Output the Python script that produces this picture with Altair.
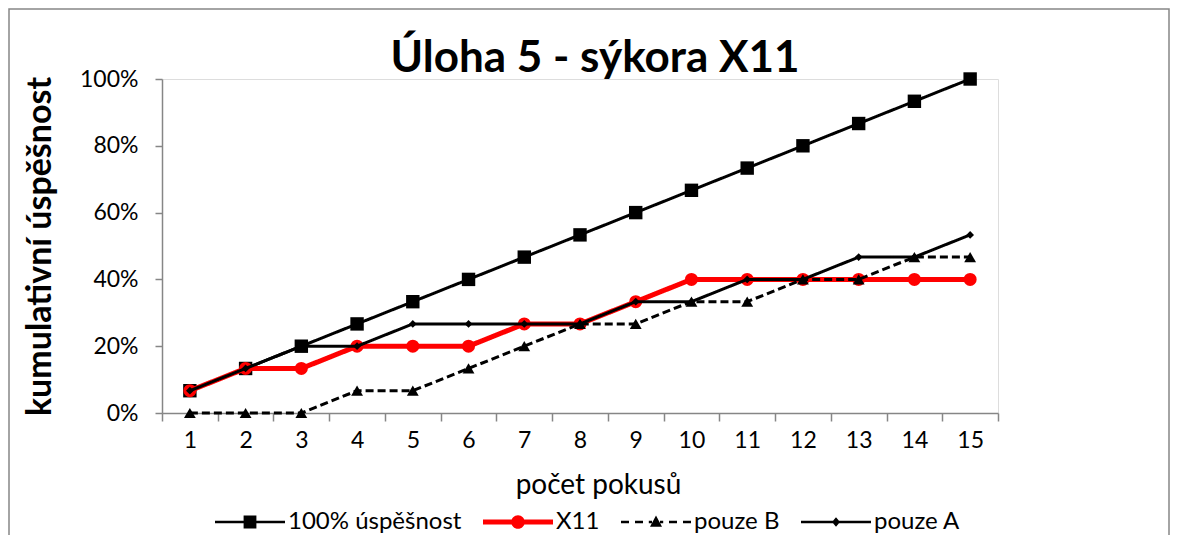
import altair as alt
import pandas as pd

# ---- data ----
pokusy = list(range(1, 16))
serie = ["100% úspěšnost", "X11", "pouze B", "pouze A"]
uspesnost_100 = [6.67, 13.33, 20.0, 26.67, 33.33, 40.0, 46.67, 53.33, 60.0, 66.67, 73.33, 80.0, 86.67, 93.33, 100.0]
x11 = [6.67, 13.33, 13.33, 20.0, 20.0, 20.0, 26.67, 26.67, 33.33, 40.0, 40.0, 40.0, 40.0, 40.0, 40.0]
pouze_b = [0.0, 0.0, 0.0, 6.67, 6.67, 13.33, 20.0, 26.67, 26.67, 33.33, 33.33, 40.0, 40.0, 46.67, 46.67]
pouze_a = [6.67, 13.33, 20.0, 20.0, 26.67, 26.67, 26.67, 26.67, 33.33, 33.33, 40.0, 40.0, 46.67, 46.67, 53.33]
y_ticks = [0, 20, 40, 60, 80, 100]

rows = []
for name, vals in zip(serie, [uspesnost_100, x11, pouze_b, pouze_a]):
    for p, v in zip(pokusy, vals):
        rows.append({"pokus": p, "hodnota": v, "serie": name})
df = pd.DataFrame(rows)

FONT = "Lato"
GRAY = "#868686"
W, H = 836, 334

x_enc = alt.X(
    "pokus:O",
    scale=alt.Scale(type="band", paddingInner=0, paddingOuter=0),
    bandPosition=0.5,
    axis=alt.Axis(
        labelAngle=0, tickBand="extent", tickSize=8, labelPadding=8,
        labelFontSize=23, labelFont=FONT, labelColor="black",
        title="počet pokusů", titleFont=FONT, titleFontSize=28, titleFontWeight="normal",
        titleColor="black", titleX=436, titleY=80, titleBaseline="alphabetic",
        domainColor=GRAY, tickColor=GRAY, domainWidth=1.5, tickWidth=1.5, grid=False,
    ),
)
y_enc = alt.Y(
    "hodnota:Q",
    scale=alt.Scale(domain=[0, 100]),
    axis=alt.Axis(
        values=y_ticks, labelExpr="datum.value + '%'", tickSize=7, labelPadding=17,
        labelFontSize=23, labelFont=FONT, labelColor="black",
        title="kumulativní úspěšnost", titleFont=FONT, titleFontSize=34, titleFontWeight="bold",
        titleColor="black", titleX=-112, titleY=H / 2, titleBaseline="alphabetic",
        domainColor=GRAY, tickColor=GRAY, domainWidth=1.5, tickWidth=1.5, grid=False,
    ),
)

styles = {
    "100% úspěšnost": dict(color="black", width=3, dash=[1, 0], shape="square", size=180),
    "X11": dict(color="#ff0000", width=5, dash=[1, 0], shape="circle", size=170),
    "pouze B": dict(color="black", width=3, dash=[8, 4], shape="triangle-up", size=140),
    "pouze A": dict(color="black", width=3, dash=[1, 0], shape="diamond", size=60),
}

base = alt.Chart(df)
layers = []
for s in serie:
    st = styles[s]
    f = base.transform_filter(alt.datum.serie == s)
    layers.append(
        f.mark_line(color=st["color"], strokeWidth=st["width"], strokeDash=st["dash"]).encode(x=x_enc, y=y_enc)
    )
    layers.append(
        f.mark_point(shape=st["shape"], filled=True, size=st["size"], color=st["color"], opacity=1).encode(x=x_enc, y=y_enc)
    )

legend_paths = [
    "M-4.375,-0.15H4.375V0.15H-4.375Z M-0.8,-0.8H0.8V0.8H-0.8Z",
    "M-4.375,-0.3H4.375V0.3H-4.375Z M0.85,0A0.85,0.85,0,1,1,-0.85,0A0.85,0.85,0,1,1,0.85,0Z",
    "M-4.375,-0.17H-3.375V0.17H-4.375Z M-2.625,-0.17H-1.625V0.17H-2.625Z M-0.9,-0.17H-0.5V0.17H-0.9Z "
    "M0.5,-0.17H0.9V0.17H0.5Z M1.625,-0.17H2.625V0.17H1.625Z M3.375,-0.17H4.375V0.17H3.375Z "
    "M0,-0.8L0.75,0.6L-0.75,0.6Z",
    "M-4.375,-0.17H4.375V0.17H-4.375Z M0,-0.6L0.5,0L0,0.6L-0.5,0Z",
]
legend_colors = ["black", "#ff0000", "black", "black"]
leg = alt.Legend(
    title=None, orient="none", direction="horizontal", legendX=76, legendY=431,
    symbolSize=256, symbolStrokeWidth=0, labelOffset=26, columnPadding=21, labelLimit=400,
    labelFont=FONT, labelFontSize=24, labelColor="black", padding=0,
)
legend_layer = (
    base.transform_filter("false")
    .mark_point(filled=True, opacity=1)
    .encode(
        x=x_enc, y=y_enc,
        shape=alt.Shape("serie:N", scale=alt.Scale(domain=serie, range=legend_paths), legend=leg),
        fill=alt.Fill("serie:N", scale=alt.Scale(domain=serie, range=legend_colors), legend=leg),
    )
)
layers.append(legend_layer)

frame = (
    alt.Chart(alt.Data(values=[{"a": 1}]))
    .mark_rect(fill=None, stroke=GRAY, strokeWidth=1.5)
    .encode(x=alt.value(-153), x2=alt.value(1007), y=alt.value(-70), y2=alt.value(520))
)

chart = (
    alt.layer(frame, *layers)
    .properties(
        width=W, height=H,
        title=alt.TitleParams(
            "Úloha 5 - sýkora X11", font=FONT, fontSize=44, fontWeight="bold", color="black",
            anchor="middle", frame="group", dx=15, baseline="alphabetic", offset=-107.75,
        ),
        autosize=alt.AutoSizeParams(type="none"),
        padding={"left": 154, "top": 71, "right": 173, "bottom": 122},
    )
    .configure_view(stroke=None)
    .configure(background="white")
)

chart.save("out.html", embed_options={"renderer": "svg", "actions": False})
